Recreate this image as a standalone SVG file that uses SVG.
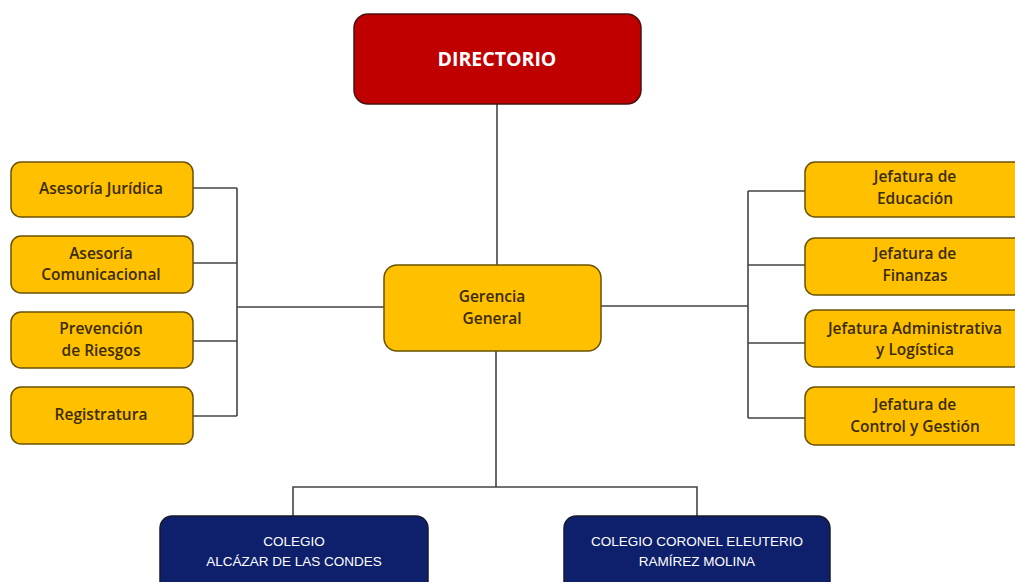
<svg xmlns="http://www.w3.org/2000/svg" width="1015" height="582" viewBox="0 0 1015 582">
<style>
.y{fill:#FFC000;stroke:#6b5200;stroke-width:1.5}
.r{fill:#C00000;stroke:#4a1010;stroke-width:1.5}
.n{fill:#0E1F6C;stroke:#1a1a2a;stroke-width:1.5}
.c{fill:none;stroke:#444;stroke-width:1.6}
.t{font-family:"Open Sans","Liberation Sans",sans-serif;font-size:15.5px;font-weight:600;fill:#3a2c00;text-anchor:middle}
.w{font-family:"Liberation Sans",sans-serif;font-size:13.5px;fill:#fff;text-anchor:middle}
.d{font-family:"Open Sans","Liberation Sans",sans-serif;font-size:19.5px;font-weight:bold;fill:#fff;text-anchor:middle}
</style>
<rect width="1015" height="582" fill="#fff"/>
<g id="connectors">
<path class="c" d="M497 104V265"/>
<path class="c" d="M193 188H237M193 263H237M193 341H237M193 416H237M237 188V416M237 307H384"/>
<path class="c" d="M805 191H748M805 265H748M805 343H748M805 418H748M748 191V418M748 306H601"/>
<path class="c" d="M496 351V487M293 516V487H697V516"/>
</g>
<g id="directorio"><rect class="r" x="354" y="14" width="287" height="90" rx="14"/><text class="d" x="497" y="66">DIRECTORIO</text></g>
<g id="gerencia"><rect class="y" x="384" y="265" width="217" height="86" rx="13"/><text class="t" x="492" y="302">Gerencia</text><text class="t" x="492" y="324">General</text></g>
<g id="juridica"><rect class="y" x="11" y="162" width="182" height="55" rx="10"/><text class="t" x="101" y="194">Asesoría  Jurídica</text></g>
<g id="comunicacional"><rect class="y" x="11" y="236" width="182" height="57" rx="10"/><text class="t" x="101" y="259">Asesoría</text><text class="t" x="101" y="280">Comunicacional</text></g>
<g id="prevencion"><rect class="y" x="11" y="312" width="182" height="56" rx="10"/><text class="t" x="101" y="334">Prevención</text><text class="t" x="101" y="356">de  Riesgos</text></g>
<g id="registratura"><rect class="y" x="11" y="387" width="182" height="57" rx="10"/><text class="t" x="101" y="420">Registratura</text></g>
<g id="educacion"><rect class="y" x="805" y="162" width="225" height="55" rx="10"/><text class="t" x="915" y="182">Jefatura  de</text><text class="t" x="915" y="204">Educación</text></g>
<g id="finanzas"><rect class="y" x="805" y="238" width="225" height="57" rx="10"/><text class="t" x="915" y="259">Jefatura  de</text><text class="t" x="915" y="281">Finanzas</text></g>
<g id="administrativa"><rect class="y" x="805" y="310" width="225" height="57" rx="10"/><text class="t" x="915" y="334">Jefatura Administrativa</text><text class="t" x="915" y="355">y Logística</text></g>
<g id="control"><rect class="y" x="805" y="387" width="225" height="58" rx="10"/><text class="t" x="915" y="410">Jefatura  de</text><text class="t" x="915" y="432">Control y Gestión</text></g>
<g id="alcazar"><rect class="n" x="160" y="516" width="268" height="80" rx="12"/><text class="w" x="294" y="546">COLEGIO</text><text class="w" x="294" y="566">ALCÁZAR DE LAS CONDES</text></g>
<g id="ramirez"><rect class="n" x="564" y="516" width="266" height="80" rx="12"/><text class="w" x="697" y="546">COLEGIO CORONEL ELEUTERIO</text><text class="w" x="697" y="566">RAMÍREZ MOLINA</text></g>
</svg>
